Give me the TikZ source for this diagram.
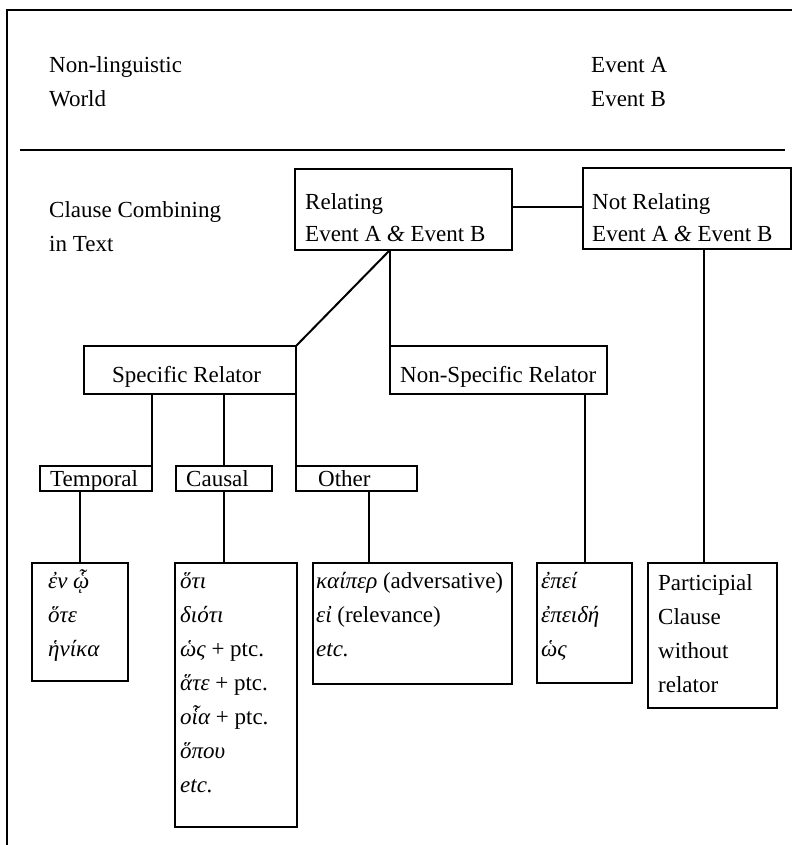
\documentclass[tikz,border=0pt]{standalone}
\usepackage{fontspec}
\setmainfont{Liberation Serif}
\newfontfamily\grkfont[Script=Greek]{Liberation Serif}
\newcommand\diagfont{\fontsize{23}{34}\selectfont}
\newcommand\gk[1]{{\grkfont\itshape #1}}

\begin{document}
\begin{tikzpicture}[x=1pt,y=-1pt,
    box/.style={draw,line width=2.3pt,inner sep=0pt,outer sep=0pt,anchor=north west},
    tag/.style={box,line width=1.6pt},
    txt/.style={anchor=north west,inner sep=0pt,align=left,yshift=23.8pt,font=\diagfont},
    link/.style={line width=2pt}]
\useasboundingbox (0,0) rectangle (792,845);
% frame and divider
\draw[line width=2.2pt] (7,845) -- (7,10) -- (792,10);
\draw[line width=2.6pt] (20,150) -- (785,150);

% labels of the two levels
\node[txt] (world) at (49,72) {\strut Non-linguistic\\World};
\node[txt] (events) at (591,72) {\strut Event A\\Event B};
\node[txt] (text) at (49,217) {\strut Clause Combining\\in Text};

% boxes
\node[box,minimum width=217pt,minimum height=81pt] (rel) at (295,169) {};
\node[box,minimum width=208pt,minimum height=81pt] (notrel) at (583,168) {};
\node[box,minimum width=212pt,minimum height=48pt] (spec) at (84,346) {};
\node[box,minimum width=217pt,minimum height=48pt] (nonspec) at (390,346) {};
\node[tag,minimum width=112pt,minimum height=25pt] (temporal) at (40,466) {};
\node[tag,minimum width=96pt,minimum height=25pt] (causal) at (176,466) {};
\node[tag,minimum width=121pt,minimum height=25pt] (other) at (296,466) {};
\node[box,minimum width=96pt,minimum height=118pt] (tlist) at (32,563) {};
\node[box,minimum width=122pt,minimum height=264pt] (clist) at (175,563) {};
\node[box,minimum width=199pt,minimum height=121pt] (olist) at (313,563) {};
\node[box,minimum width=95pt,minimum height=120pt] (nlist) at (537,563) {};
\node[box,minimum width=129pt,minimum height=145pt] (plist) at (648,563) {};

% texts in the boxes
\node[txt] (reltxt) at (305,209) {\strut Relating\\[-2pt]Event A {\itshape\&} Event B};
\node[txt] (notreltxt) at (592,209) {\strut Not Relating\\[-2pt]Event A {\itshape\&} Event B};
\node[txt] (spectxt) at (112,382) {\strut Specific Relator};
\node[txt] (nonspectxt) at (400,382) {\strut Non-Specific Relator};
\node[txt] (temporaltxt) at (50,486) {\strut Temporal};
\node[txt] (causaltxt) at (186,486) {\strut Causal};
\node[txt] (othertxt) at (318,486) {\strut Other};
\node[txt] (tlisttxt) at (48,588) {\strut\gk{ἐν ᾧ}\\\gk{ὅτε}\\\gk{ἡνίκα}};
\node[txt] (clisttxt) at (180,588) {\strut\gk{ὅτι}\\\gk{διότι}\\\gk{ὡς} + ptc.\\\gk{ἅτε} + ptc.\\\gk{οἷα} + ptc.\\\gk{ὅπου}\\\textit{etc.}};
\node[txt] (olisttxt) at (316,588) {\strut\gk{καίπερ} (adversative)\\\gk{εἰ} (relevance)\\\textit{etc.}};
\node[txt] (nlisttxt) at (541,588) {\strut\gk{ἐπεί}\\\gk{ἐπειδή}\\\gk{ὡς}};
\node[txt] (plisttxt) at (658,590) {\strut Participial\\Clause\\without\\relator};

% connectors
\draw[link] ([yshift=3pt]rel.east) -- ([yshift=3pt]rel.east -| notrel.west);
\draw[link] (nonspec.north west |- rel.south) -- (spec.north east);
\draw[link] (nonspec.north west |- rel.south) -- (nonspec.north west);
\draw[link] (temporal.north east) -- (temporal.north east |- spec.south);
\draw[link] (causal.north) -- (causal.north |- spec.south);
\draw[link] (spec.south east) -- (other.north west);
\draw[link] (tlist.north) -- (tlist.north |- temporal.south);
\draw[link] (causal.south) -- (causal.south |- clist.north);
\draw[link] ([xshift=12.5pt]other.south) -- ([xshift=12.5pt]other.south |- olist.north);
\draw[link] (nlist.north) -- (nlist.north |- nonspec.south);
\draw[link] ([xshift=-8.5pt]plist.north) -- ([xshift=-8.5pt]plist.north |- notrel.south);
\end{tikzpicture}
\end{document}
